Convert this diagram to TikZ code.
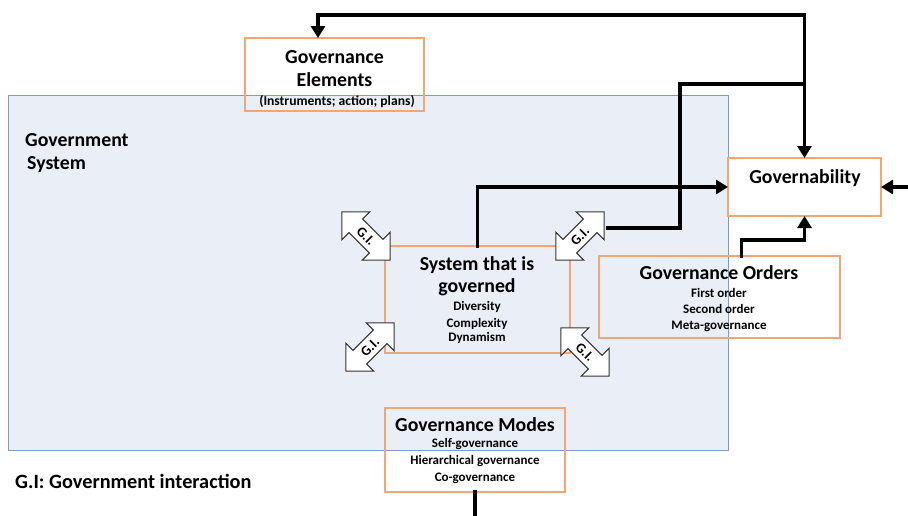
\documentclass[tikz,border=0pt]{standalone}
\usepackage{fontspec}
\setmainfont{Carlito}
\usetikzlibrary{shapes.arrows,arrows.meta,calc}
\definecolor{boxor}{HTML}{F2A673}
\definecolor{sysfill}{HTML}{EAEFF7}
\definecolor{sysline}{HTML}{7F9AC6}
\begin{document}
\begin{tikzpicture}[x=1pt,y=-1pt,
  box/.style={draw=boxor, line width=1.3pt, inner sep=0pt, outer sep=0pt, anchor=north west},
  big/.style={font=\fontsize{19.8}{22}\selectfont\bfseries, anchor=base, inner sep=0pt},
  small/.style={font=\fontsize{13}{15}\selectfont\bfseries, anchor=base, inner sep=0pt},
  thickline/.style={line width=3.5pt, line cap=rect},
  conn/.style={line width=3.5pt, line cap=rect, -{Triangle[length=12pt,width=14pt]}},
  gi/.style={double arrow, draw=black!80, fill=white, line width=1pt,
    double arrow head extend=10pt, minimum height=68pt, inner xsep=2pt, inner ysep=4.5pt,
    font=\fontsize{14}{16}\selectfont\bfseries}]
\useasboundingbox (0,0) rectangle (908,515);
\fill[white] (0,0) rectangle (908,515);
\clip (0,0) rectangle (908,515);

% government system
\node[draw=sysline, fill=sysfill, line width=1pt, inner sep=0pt, outer sep=0pt,
  anchor=north west, minimum width=720, minimum height=355] (gov) at (8,95) {};
\node[big, anchor=base west] (govt1) at (25,146) {Government};
\node[big, anchor=base west] (govt2) at (27,169) {System};

% boxes
\node[box, minimum width=179, minimum height=73] (elements) at (245,38) {};
\node[box, fill=white, minimum width=153, minimum height=58] (govern) at (728,158) {};
\node[box, minimum width=241, minimum height=82] (orders) at (599,256) {};
\node[box, minimum width=185, minimum height=107] (sys) at (385,246) {};
\node[box, minimum width=180, minimum height=84] (modes) at (385,408) {};

% texts
\node[big] (t1) at (334.5,63) {Governance};
\node[big] (t2) at (334.5,86) {Elements};
\node[small, font=\fontsize{13.6}{15}\selectfont\bfseries] (t3) at (337,105) {(Instruments; action; plans)};
\node[big] (t4) at (805,183) {Governability};
\node[big] (t5) at (719,279) {Governance Orders};
\node[small] (t6) at (719,297.5) {First order};
\node[small] (t7) at (719,313.5) {Second order};
\node[small] (t8) at (719,329.5) {Meta-governance};
\node[big] (t9) at (477,270) {System that is};
\node[big] (t10) at (477,292) {governed};
\node[small] (t11) at (477,310.5) {Diversity};
\node[small] (t12) at (477,327.5) {Complexity};
\node[small] (t13) at (477,341.5) {Dynamism};
\node[big] (t14) at (475,431) {Governance Modes};
\node[small] (t15) at (475,447.5) {Self-governance};
\node[small] (t16) at (475,464.5) {Hierarchical governance};
\node[small] (t17) at (475,481.5) {Co-governance};
\node[big, anchor=base west, font=\fontsize{20.3}{22}\selectfont\bfseries] (legend) at (15,488) {G.I: Government interaction};

% G.I. arrows
\node[gi, rotate=-45] (gi1) at (366,236) {G.I.};
\node[gi, rotate=45] (gi2) at (580,236) {G.I.};
\node[gi, rotate=45] (gi3) at (370,347) {G.I.};
\node[gi, rotate=-45] (gi4) at (585,352) {G.I.};

% connectors
\coordinate (c1) at (608,228);
\coordinate (J) at ($(govern.north)+(0,-74)$);
\coordinate (T) at ($(govern.north)+(0,-143)$);
\coordinate (ea) at (318,15);
\draw[thickline] (c1) -| (680,84) -- (J);
\draw[conn] (T) -- (govern.north);
\draw[conn] (T) -- (ea) -- (ea |- elements.north);
\draw[conn] (sys.north) |- (govern.west);
\draw[conn] ($(orders.north)+(22,0)$) |- ($(govern.south)+(0,24)$) -- (govern.south);
\draw[conn] (modes.south) -- ++(0,40) -| ($(govern.east)+(60,0)$) -- (govern.east);
\end{tikzpicture}
\end{document}
